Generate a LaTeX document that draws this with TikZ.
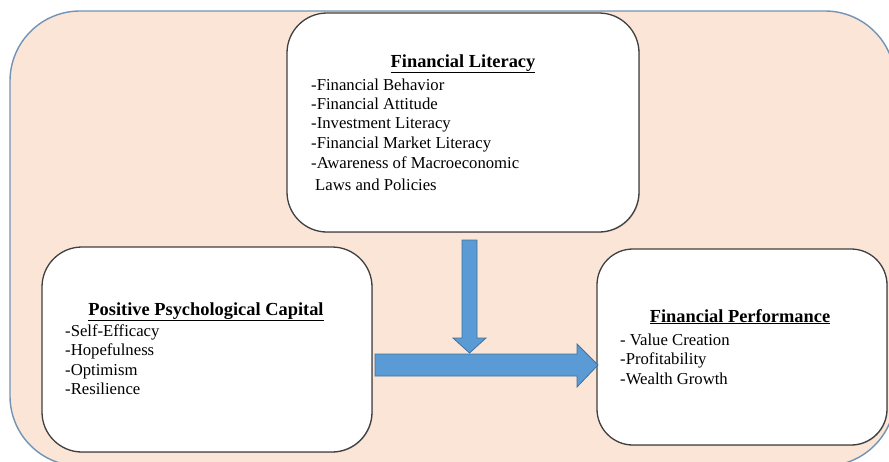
\documentclass[tikz,border=0pt]{standalone}
\usepackage{fontspec}
\setmainfont{Liberation Serif}
\usetikzlibrary{shadows}
\definecolor{peach}{HTML}{FBE5D6}
\definecolor{frameblue}{HTML}{7193B6}
\definecolor{arrowfill}{HTML}{5B9BD5}
\definecolor{arrowline}{HTML}{41719C}
\definecolor{boxline}{HTML}{404040}
\tikzset{
  framebox/.style={draw=frameblue, line width=1.4pt, fill=peach, rounded corners=70pt, inner sep=0pt},
  conceptbox/.style={draw=boxline, line width=1.3pt, fill=white, inner sep=0pt,
    drop shadow={shadow xshift=0.8pt, shadow yshift=-0.8pt, opacity=0.35}},
  blockarrow/.style={draw=arrowline, line width=0.8pt, fill=arrowfill},
  titletext/.style={font=\fontsize{18.4}{20}\selectfont\bfseries, anchor=base, inner sep=0pt},
  itemtext/.style={font=\fontsize{16.7}{19}\selectfont, anchor=base west, inner sep=0pt},
}
\begin{document}
\begin{tikzpicture}[x=1pt,y=-1pt]
\useasboundingbox (0,0) rectangle (889,461);
\clip (0,0) rectangle (889,461);
% outer frame
\node[framebox, minimum width=885pt, minimum height=455pt] (frame) at (452.5,238.5) {};
% boxes
\node[conceptbox, rounded corners=40pt, minimum width=352pt, minimum height=219pt] (fl) at (463,122.5) {};
\node[conceptbox, rounded corners=40pt, minimum width=330pt, minimum height=205pt] (ppc) at (207,349.5) {};
\node[conceptbox, rounded corners=36pt, minimum width=290pt, minimum height=196pt] (fp) at (742,347) {};
% texts: Financial Literacy
\node[titletext] (flt) at (463,67) {\underline{Financial Literacy}};
\node[itemtext] (fl1) at (311,90) {-Financial Behavior};
\node[itemtext] (fl2) at (311,109) {-Financial Attitude};
\node[itemtext] (fl3) at (311,128.5) {-Investment Literacy};
\node[itemtext] (fl4) at (311,148) {-Financial Market Literacy};
\node[itemtext] (fl5) at (311,168) {-Awareness of Macroeconomic};
\node[itemtext] (fl6) at (315,190) {Laws and Policies};
% texts: Positive Psychological Capital
\node[titletext] (ppct) at (206,315) {\underline{Positive Psychological Capital}};
\node[itemtext] (ppc1) at (65,336) {-Self-Efficacy};
\node[itemtext] (ppc2) at (65,355) {-Hopefulness};
\node[itemtext] (ppc3) at (65,375) {-Optimism};
\node[itemtext] (ppc4) at (65,394) {-Resilience};
% texts: Financial Performance
\node[titletext] (fpt) at (740,322) {\underline{Financial Performance}};
\node[itemtext] (fp1) at (620,345) {- Value Creation};
\node[itemtext] (fp2) at (620,364) {-Profitability};
\node[itemtext] (fp3) at (620,384) {-Wealth Growth};
% block arrows
\coordinate (dtip) at (469.5,353);
\coordinate (rtip) at (598,365);
\draw[blockarrow] (462,240) -- (477,240) -- (477,338) -- (486,338) -- (dtip) -- (453,338) -- (462,338) -- cycle;
\draw[blockarrow] (375,354) -- (577,354) -- (577,344) -- (rtip) -- (577,387) -- (577,376) -- (375,376) -- cycle;
\end{tikzpicture}
\end{document}
